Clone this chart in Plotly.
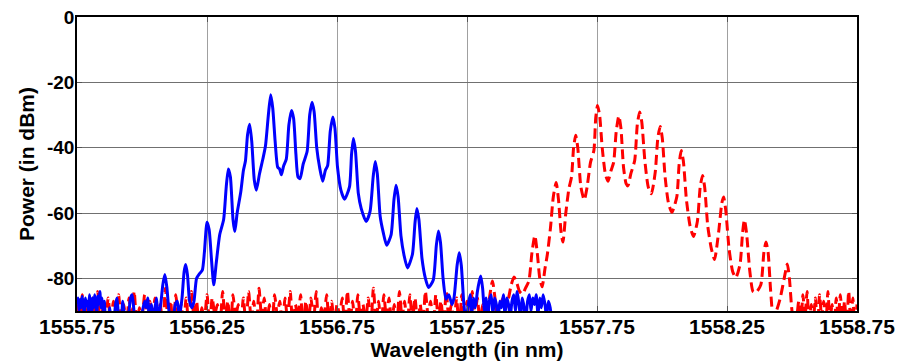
import numpy as np
import plotly.graph_objects as go

# ---------------- data ----------------
x_tick_vals = [1555.75, 1556.25, 1556.75, 1557.25, 1557.75, 1558.25, 1558.75]
x_tick_text = ["1555.75", "1556.25", "1556.75", "1557.25", "1557.75", "1558.25", "1558.75"]
y_tick_vals = [0, -20, -40, -60, -80]
y_tick_text = ["0", "-20", "-40", "-60", "-80"]

# blue (solid) spectrum: wavelength (nm), power (dBm)
blue_wl = [
    1555.750, 1555.754, 1555.758, 1555.762, 1555.766, 1555.770, 1555.774, 1555.778, 1555.782, 1555.786,
    1555.790, 1555.794, 1555.798, 1555.802, 1555.806, 1555.810, 1555.814, 1555.818, 1555.822, 1555.826,
    1555.830, 1555.834, 1555.838, 1555.842, 1555.846, 1555.850, 1555.855, 1555.860, 1555.868, 1555.876,
    1555.882, 1555.890, 1555.898, 1555.904, 1555.910, 1555.918, 1555.926, 1555.932, 1555.940, 1555.950,
    1555.956, 1555.962, 1555.968, 1555.976, 1555.986, 1555.994, 1556.002, 1556.010, 1556.016, 1556.022,
    1556.028, 1556.036, 1556.042, 1556.050, 1556.056, 1556.062,
    1556.072, 1556.080, 1556.088, 1556.096, 1556.104, 1556.118, 1556.128, 1556.136, 1556.144, 1556.154,
    1556.162, 1556.168, 1556.175, 1556.183, 1556.192, 1556.200, 1556.210, 1556.222, 1556.232, 1556.240,
    1556.250, 1556.258, 1556.268, 1556.276, 1556.286, 1556.299, 1556.314, 1556.324, 1556.332, 1556.340,
    1556.350, 1556.357, 1556.366, 1556.380, 1556.390, 1556.398, 1556.406, 1556.414, 1556.422, 1556.432,
    1556.440, 1556.452, 1556.465, 1556.475, 1556.486, 1556.495, 1556.503, 1556.512, 1556.522, 1556.529,
    1556.536, 1556.545, 1556.555, 1556.565, 1556.575, 1556.583, 1556.592, 1556.600, 1556.608, 1556.620,
    1556.635, 1556.645, 1556.654, 1556.662, 1556.672, 1556.683, 1556.695, 1556.705, 1556.714, 1556.724,
    1556.734, 1556.742, 1556.752, 1556.765, 1556.779, 1556.798, 1556.806, 1556.813, 1556.821, 1556.832,
    1556.843, 1556.862, 1556.877, 1556.889, 1556.897, 1556.905, 1556.916, 1556.928, 1556.941, 1556.958,
    1556.969, 1556.977, 1556.985, 1556.996, 1557.008, 1557.021, 1557.040, 1557.050, 1557.057, 1557.065,
    1557.077, 1557.090, 1557.102, 1557.120, 1557.132, 1557.140, 1557.148, 1557.158, 1557.169, 1557.180,
    1557.192, 1557.200, 1557.212, 1557.220, 1557.228, 1557.238, 1557.246,
    1557.255, 1557.262, 1557.268, 1557.275, 1557.282, 1557.290, 1557.297, 1557.303, 1557.310, 1557.317,
    1557.323, 1557.330, 1557.336, 1557.343, 1557.350, 1557.356, 1557.363, 1557.370, 1557.376, 1557.383,
    1557.390, 1557.396, 1557.403, 1557.410, 1557.416, 1557.423, 1557.430, 1557.436, 1557.443, 1557.450,
    1557.456, 1557.463, 1557.470, 1557.476, 1557.483, 1557.490, 1557.496, 1557.503, 1557.510, 1557.516,
    1557.523, 1557.530, 1557.536, 1557.543, 1557.550, 1557.556, 1557.563, 1557.570, 1557.577,
]
blue_pw = [
    -88, -86, -90, -86.5, -89, -85.5, -88, -91, -86, -88.5,
    -87, -90, -85, -88, -92, -86, -89, -85, -87.5, -91,
    -85.5, -88, -84, -89, -86, -90, -87, -93, -95, -89,
    -94, -95, -88, -86, -92, -95, -87, -91, -95, -90,
    -86, -85, -89, -95, -93, -95, -90, -87, -89, -86,
    -92, -88, -94, -89, -86, -92,
    -88, -82, -78.8, -83, -90, -94, -88, -87, -92, -86,
    -78, -75.8, -79, -87, -89, -87, -80, -78.5, -77.5, -72,
    -62.8, -65, -75, -82, -75, -66.6, -62, -52, -46.5, -49,
    -62, -65.7, -60, -53.5, -47, -44, -36, -32.8, -38, -50,
    -53, -48, -43.4, -39.4, -30, -23.8, -28, -38, -46, -46.5,
    -48.3, -45.5, -43.5, -33, -28.6, -31, -42, -49, -49.5, -45,
    -41.2, -30, -26.1, -29, -40, -46, -50.3, -47, -45.5, -35,
    -30.6, -34, -46, -53, -55.8, -52, -42, -37.2, -41, -54,
    -58.6, -62.6, -59.6, -49, -44.2, -48, -61, -66, -69.9, -66.7,
    -56, -51.5, -55, -67, -73, -76.8, -72.7, -63, -58.6, -62,
    -74, -80, -82.8, -80.6, -70, -65.5, -69, -80, -86.4, -85,
    -88, -86, -76, -72.2, -76, -88, -93,
    -88, -85, -91, -86, -89, -84, -81, -79.3, -83, -90,
    -86, -92, -87, -85, -91, -86, -88, -93, -87, -89,
    -85, -91, -86, -88, -92, -87, -85, -90, -84, -88,
    -92, -86, -89, -93, -87, -85, -90, -86, -88, -85,
    -91, -86, -89, -85, -88, -92, -87, -89, -94,
]

# red (dashed) spectrum: noise floor sampled on a regular grid, then the comb
red_noise_left_start = 1555.75
red_noise_left_step = 0.01
red_noise_left_pw = [
    -87, -94, -85, -92, -88, -95, -86, -91, -84, -96, -89, -93, -86, -95, -87, -92, -85, -94, -88, -96,
    -86, -93, -84, -95, -89, -92, -85, -96, -87, -94, -86, -91, -88, -95, -83, -93, -87, -96, -85, -92,
    -88, -94, -86, -95, -84, -92, -87, -96, -89, -93, -85, -94, -86, -91, -88, -95, -84, -93, -87, -96,
    -85, -92, -88, -94, -86, -95, -84, -93, -87, -96, -83, -92, -86, -94, -88, -95, -85, -91, -87, -96,
    -86, -93, -84, -95, -88, -92, -85, -96, -87, -94, -86, -93, -84, -95, -89, -92, -85, -94, -87, -96,
    -88, -91, -86, -95, -84, -93, -87, -96, -85, -92, -88, -94, -86, -95, -83, -93, -87, -96, -85, -92,
    -86, -94, -88, -95, -84, -92, -87, -96, -85, -93, -86, -94, -88, -95, -84, -91, -87, -96, -85, -93,
    -87, -95, -84, -92, -88, -94, -86, -96, -85, -93, -87, -95, -84, -92, -86, -94, -88, -95,
]
red_comb_wl = [
    1557.330, 1557.340, 1557.348, 1557.356, 1557.366, 1557.378, 1557.390, 1557.400, 1557.410, 1557.420,
    1557.431, 1557.440, 1557.452, 1557.463, 1557.475, 1557.488, 1557.500, 1557.511, 1557.520, 1557.530,
    1557.539, 1557.550, 1557.559, 1557.571, 1557.582, 1557.593, 1557.602, 1557.612, 1557.619, 1557.630,
    1557.642, 1557.652, 1557.660, 1557.668, 1557.676, 1557.688, 1557.701, 1557.712, 1557.725, 1557.738,
    1557.745, 1557.752, 1557.760, 1557.770, 1557.782, 1557.792, 1557.804, 1557.814, 1557.824, 1557.834,
    1557.842, 1557.852, 1557.862, 1557.869, 1557.880, 1557.895, 1557.905, 1557.914, 1557.922, 1557.934,
    1557.947, 1557.959, 1557.974, 1557.984, 1557.993, 1558.001, 1558.012, 1558.025, 1558.038, 1558.057,
    1558.066, 1558.074, 1558.082, 1558.094, 1558.108, 1558.121, 1558.136, 1558.147, 1558.156, 1558.164,
    1558.176, 1558.190, 1558.202, 1558.218, 1558.230, 1558.237, 1558.245, 1558.258, 1558.272, 1558.284,
    1558.300, 1558.310, 1558.317, 1558.325, 1558.338, 1558.350, 1558.361, 1558.380, 1558.392, 1558.400,
    1558.408, 1558.418, 1558.428, 1558.440, 1558.455, 1558.470, 1558.482, 1558.490, 1558.500, 1558.510,
    1558.518,
]
red_comb_pw = [
    -90, -84, -80.8, -85, -91, -88, -86, -89, -86, -82,
    -79.6, -81, -84, -84.8, -83, -80.8, -72, -66.9, -72, -80,
    -82.6, -77, -72.7, -64.6, -55, -50.7, -56, -66, -68.9, -60,
    -52.5, -49, -40, -36.2, -40, -52, -56, -52, -44.5, -40.9,
    -31, -27.1, -30, -40, -48, -50.3, -47, -44.5, -35, -30.3,
    -34, -46, -51, -51.7, -48, -43.9, -33, -29.1, -32, -44,
    -52, -54.1, -47.5, -37, -33.5, -37, -49, -57, -59.8, -55,
    -45, -40.9, -44, -56, -64, -67.2, -62.6, -52, -48.5, -52,
    -64, -71, -74.2, -65.7, -57, -55.1, -59, -71, -78, -79.8,
    -75.8, -66, -62.1, -66, -78, -84, -84.4, -82, -72, -68.9,
    -72, -84, -92, -90, -86, -80, -75.6, -80, -90, -94,
    -92,
]
red_noise_right_start = 1558.526
red_noise_right_step = 0.008
red_noise_right_pw = [
    -87, -94, -85, -92, -84, -95, -88, -93, -86, -96, -85, -92, -87, -95, -84,
    -93, -88, -96, -86, -92, -85, -94, -87, -95, -84, -93, -86, -96, -88,
]

# assemble red trace
red_left_wl = list(np.round(red_noise_left_start + red_noise_left_step * np.arange(len(red_noise_left_pw)), 4))
red_right_wl = list(np.round(red_noise_right_start + red_noise_right_step * np.arange(len(red_noise_right_pw)), 4))
red_wl = red_left_wl + red_comb_wl + red_right_wl
red_pw = red_noise_left_pw + red_comb_pw + red_noise_right_pw

# ---------------- figure ----------------
FONT = "Liberation Sans, Arial, sans-serif"

fig = go.Figure()
fig.add_trace(go.Scatter(
    x=red_wl, y=red_pw, mode="lines",
    line=dict(color="#FF0000", width=3, dash="10px,5px", shape="spline", smoothing=0.6),
    showlegend=False, hoverinfo="skip",
))
fig.add_trace(go.Scatter(
    x=blue_wl, y=blue_pw, mode="lines",
    line=dict(color="#0000FF", width=3, shape="spline", smoothing=0.6),
    showlegend=False, hoverinfo="skip",
))

# the page body adds an 8px offset, so the figure is sized to fit the 903x361 window
fig.update_layout(
    width=895, height=353,
    margin=dict(l=69, r=46, t=9, b=50),
    paper_bgcolor="white", plot_bgcolor="white",
    font=dict(family=FONT, color="black"),
    xaxis=dict(
        range=[1555.75, 1558.75], automargin=False,
        tickmode="array", tickvals=x_tick_vals, ticktext=x_tick_text,
        tickfont=dict(family=FONT, size=21, weight="bold", color="black"),
        ticklabelstandoff=-4, ticklabeloverflow="allow",
        showline=True, linecolor="black", linewidth=1.5, mirror="ticks",
        ticks="inside", ticklen=5, tickcolor="#555555", tickwidth=1,
        showgrid=True, gridcolor="#a0a0a0", gridwidth=1,
        zeroline=False,
        title=dict(text="Wavelength (in nm)", standoff=2,
                   font=dict(family=FONT, size=21, weight="bold", color="black")),
    ),
    yaxis=dict(
        range=[-90, 0], automargin=False,
        tickmode="array", tickvals=y_tick_vals, ticktext=y_tick_text,
        tickfont=dict(family=FONT, size=19, weight="bold", color="black"),
        ticklabelstandoff=-3, ticklabeloverflow="allow",
        showline=True, linecolor="black", linewidth=1.5, mirror="ticks",
        ticks="inside", ticklen=5, tickcolor="#555555", tickwidth=1,
        showgrid=True, gridcolor="#707070", gridwidth=1,
        zeroline=False,
        title=dict(text="Power (in dBm)", standoff=7,
                   font=dict(family=FONT, size=21, weight="bold", color="black")),
    ),
)

fig.write_html("out.html")
